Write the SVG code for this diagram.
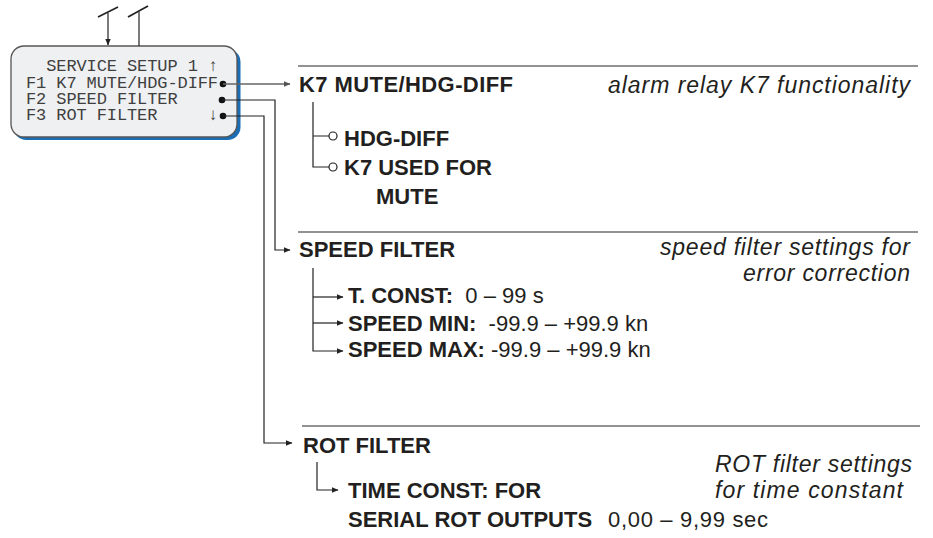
<svg xmlns="http://www.w3.org/2000/svg" width="933" height="538" viewBox="0 0 933 538">
<defs>
<marker id="ah" markerUnits="userSpaceOnUse" markerWidth="7" markerHeight="6" refX="6" refY="3" orient="auto">
<path d="M0,0.3 L6.5,3 L0,5.7 z" fill="#222"/>
</marker>
<marker id="ahg" markerUnits="userSpaceOnUse" markerWidth="7" markerHeight="6" refX="6" refY="3" orient="auto">
<path d="M0,0.3 L6.5,3 L0,5.7 z" fill="#555"/>
</marker>
<style>
.lcd{font-family:"Liberation Mono","DejaVu Sans Mono",monospace;font-size:17px;letter-spacing:-0.1px;fill:#3f3f3f;white-space:pre}
.h{font-family:"Liberation Sans",Arial,sans-serif;font-size:22px;font-weight:bold;fill:#231f20}
.v{font-family:"Liberation Sans",Arial,sans-serif;font-size:22px;fill:#231f20}
.i{font-family:"Liberation Sans",Arial,sans-serif;font-size:23px;font-style:italic;fill:#231f20}
.ln{fill:none;stroke:#222;stroke-width:1.2}
.sl{fill:none;stroke:#222;stroke-width:1.8}
.lg{fill:none;stroke:#666;stroke-width:1.3}
.sep{fill:none;stroke:#6e6e6e;stroke-width:1.5}
.dot{fill:#111}
.oc{fill:#fff;stroke:#222;stroke-width:1.2}
</style>
</defs>
<rect width="933" height="538" fill="#fff"/>

<g id="lcd">
<rect x="13.5" y="49" width="227" height="91" rx="13" fill="#1b6db5"/>
<rect x="11" y="46" width="226" height="91" rx="13" fill="#eff0f2" stroke="#555" stroke-width="1.3"/>
<text class="lcd" x="26" y="71">  SERVICE SETUP 1 ↑</text>
<text class="lcd" x="26" y="88">F1 K7 MUTE/HDG-DIFF</text>
<text class="lcd" x="26" y="104">F2 SPEED FILTER</text>
<text class="lcd" x="26" y="120">F3 ROT FILTER     ↓</text>
<circle class="dot" cx="223" cy="84" r="3.3"/>
<circle class="dot" cx="222" cy="100" r="3.3"/>
<circle class="dot" cx="223" cy="116" r="3.3"/>
</g>

<g id="connectors">
<path class="sl" d="M98,17 L118,7"/>
<path class="ln" d="M108,13 V45" marker-end="url(#ah)"/>
<path class="sl" d="M128,17 L148,6"/>
<path class="ln" d="M139,12 V46"/>
<path class="lg" d="M223,84 H290" marker-end="url(#ahg)"/>
<path class="ln" d="M222,100 H275 V250 H290" marker-end="url(#ah)"/>
<path class="ln" d="M223,116 H264 V443 H292" marker-end="url(#ah)"/>
<path class="ln" d="M313,102 V167 H329 M313,136 H329"/>
<path class="ln" d="M313,268 V351 H343" marker-end="url(#ah)"/>
<path class="ln" d="M313,297 H343" marker-end="url(#ah)"/>
<path class="ln" d="M313,323 H343" marker-end="url(#ah)"/>
<path class="ln" d="M317,462 V490 H338" marker-end="url(#ah)"/>
</g>

<g id="k7">
<path class="sep" d="M298,66 H918"/>
<text class="h" x="299" y="92" textLength="214">K7 MUTE/HDG-DIFF</text>
<text class="i" x="608" y="93" textLength="302">alarm relay K7 functionality</text>
<circle class="oc" cx="333" cy="136" r="4"/>
<circle class="oc" cx="333" cy="167" r="4"/>
<text class="h" x="344" y="146">HDG-DIFF</text>
<text class="h" x="344" y="175">K7 USED FOR</text>
<text class="h" x="376" y="204">MUTE</text>
</g>

<g id="speed">
<path class="sep" d="M298,232 H918"/>
<text class="h" x="299" y="257">SPEED FILTER</text>
<text class="i" x="660" y="255" textLength="250">speed filter settings for</text>
<text class="i" x="743" y="281" textLength="167">error correction</text>
<text x="348" y="303"><tspan class="h">T. CONST:</tspan><tspan class="v" xml:space="preserve">  0 – 99 s</tspan></text>
<text x="348" y="331"><tspan class="h">SPEED MIN:</tspan><tspan class="v" xml:space="preserve">  -99.9 – +99.9 kn</tspan></text>
<text x="348" y="357"><tspan class="h">SPEED MAX:</tspan><tspan class="v" xml:space="preserve"> -99.9 – +99.9 kn</tspan></text>
</g>

<g id="rot">
<path class="sep" d="M302,426 H920"/>
<text class="h" x="303" y="453">ROT FILTER</text>
<text class="i" x="715" y="472" textLength="197">ROT filter settings</text>
<text class="i" x="715" y="498" textLength="188">for time constant</text>
<text class="h" x="348" y="498">TIME CONST: FOR</text>
<text class="h" x="348" y="527">SERIAL ROT OUTPUTS</text>
<text class="v" x="608" y="527" textLength="160">0,00 – 9,99 sec</text>
</g>
</svg>
